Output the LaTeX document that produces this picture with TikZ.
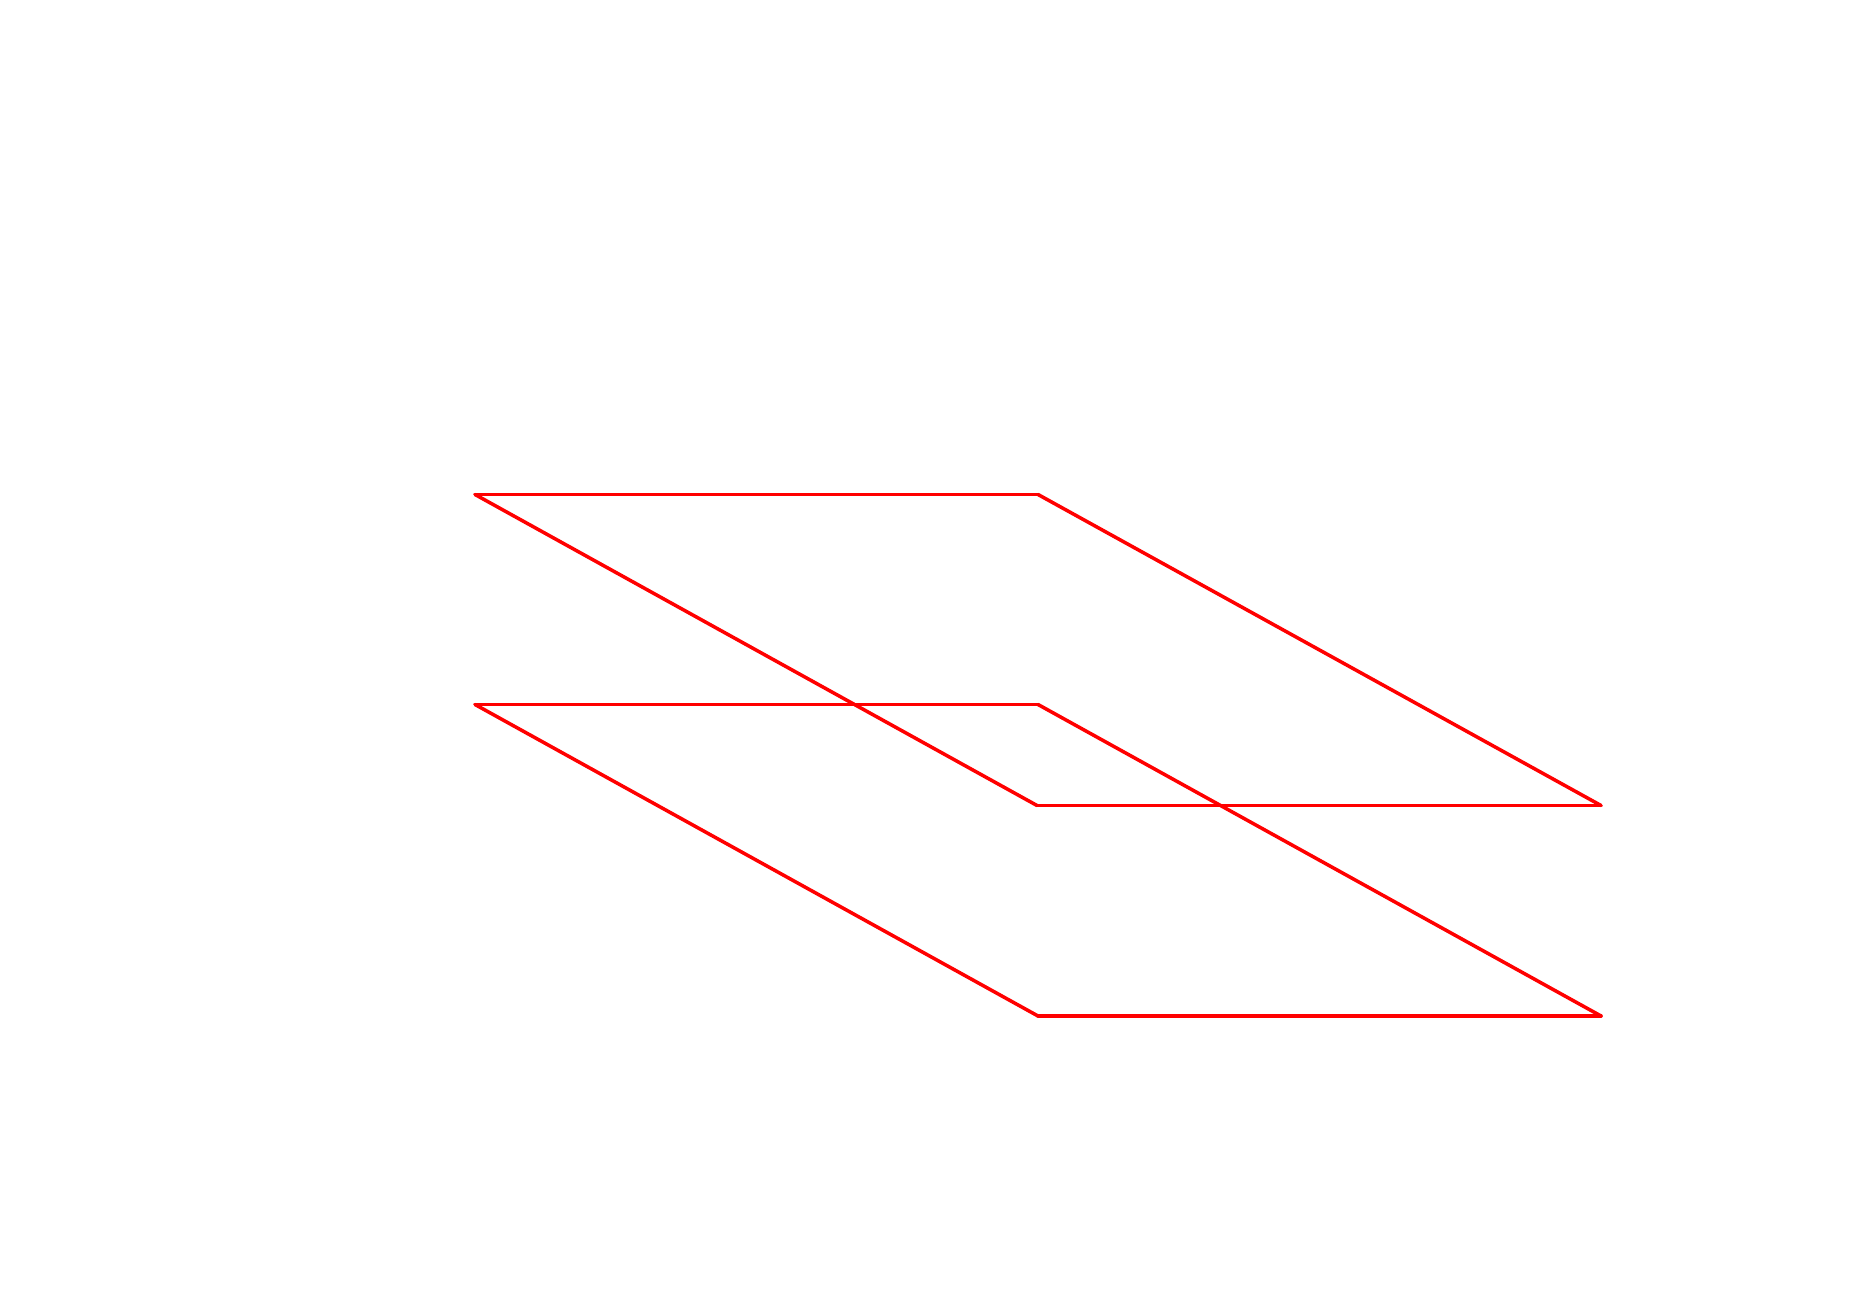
\documentclass[tikz,border=0pt]{standalone}
\tikzset{
  planeedge/.style={draw=red,line width=1pt,line cap=round},
}
\begin{document}
\begin{tikzpicture}[x=0.01cm,y=-0.01cm]
      \useasboundingbox (0,0) rectangle (1855,1316);
      \draw
        (475,494.5) coordinate (a0)
        (1038,494.5) coordinate (a1)
        (1601,805.5) coordinate (a2)
        (1037,805.5) coordinate (a3)
        (475,704.5) coordinate (b0)
        (1038,704.5) coordinate (b1)
        (1601,1016) coordinate (b2)
        (1038,1016) coordinate (b3);
      \begin{scope}[planeedge]
        \draw (a0) to (a1);
        \draw (a1) to (a2);
        \draw (a2) to (a3);
        \draw (a3) to (a0);
        \draw (b0) to (b1);
        \draw (b1) to (b2);
        \draw (b2) to (b3);
        \draw (b3) to (b0);
      \end{scope}
    \end{tikzpicture}
\end{document}
